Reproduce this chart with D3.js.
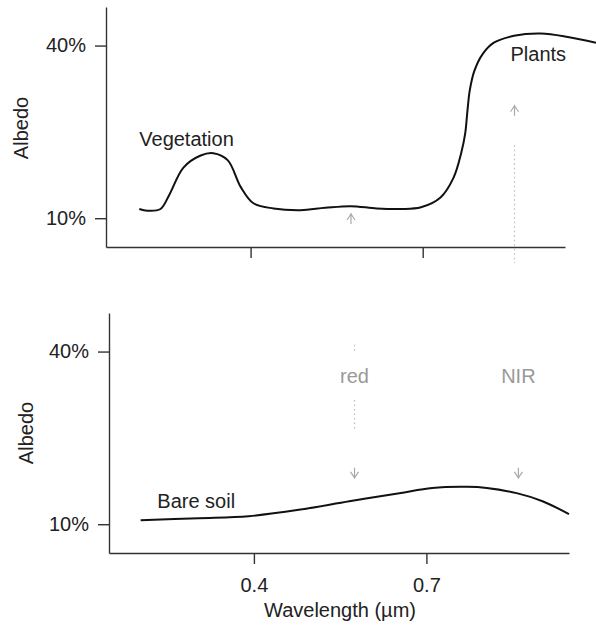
<!DOCTYPE html>
<html>
<head>
<meta charset="utf-8">
<script src="https://cdn.jsdelivr.net/npm/d3@7"></script>
<style>
  body { margin: 0; background: #fff; }
  svg text { font-family: "Liberation Sans", Arial, sans-serif; font-size: 20px; fill: #222; }
</style>
</head>
<body>
<div id="chart"></div>
<script>
// wavelength (µm) and albedo (%)
const vegWave = [0.206, 0.220, 0.243, 0.258, 0.283, 0.313, 0.335, 0.360, 0.383, 0.405, 0.440, 0.487,
  0.530, 0.574, 0.620, 0.662, 0.697, 0.731, 0.754, 0.767, 0.774, 0.778, 0.782, 0.790, 0.805, 0.824,
  0.859, 0.906, 0.953, 1.002];
const vegAlbedo = [11.6, 11.3, 11.6, 14.0, 18.8, 20.9, 21.3, 20.1, 15.4, 12.6, 11.7, 11.4,
  11.8, 12.1, 11.7, 11.6, 11.9, 13.6, 17.1, 21.3, 24.7, 28.7, 32.2, 35.6, 38.6, 40.5,
  41.7, 42.1, 41.5, 40.5];

const soilWave = [0.203, 0.304, 0.391, 0.478, 0.566, 0.653, 0.710, 0.770, 0.805, 0.857, 0.902, 0.948];
const soilAlbedo = [10.7, 11.05, 11.4, 12.5, 14.0, 15.4, 16.3, 16.5, 16.3, 15.4, 14.0, 11.75];

const bands = ["red", "NIR"];
const bandWave = [0.575, 0.86];
const topArrowAlbedo = [9, 27.8];
const bottomArrowAlbedo = [19.8, 19.8];

const xTicks = [0.4, 0.7];
const yTicks = [10, 40];

const svg = d3.select("#chart").append("svg")
  .attr("width", 596)
  .attr("height", 626);

const panels = [
  { left: 106, right: 565, top: 7, bottom: 247, labels: false },
  { left: 109, right: 569, top: 313, bottom: 553, labels: true }
];

panels.forEach((p) => {
  p.x = d3.scaleLinear().domain([0.148, 0.948]).range([p.left, p.right]);
  p.y = d3.scaleLinear().domain([5, 46.7]).range([p.bottom, p.top]);

  const yAxis = svg.append("g")
    .attr("transform", `translate(${p.left},0)`)
    .call(d3.axisLeft(p.y).tickValues(yTicks).tickFormat((d) => d + "%")
      .tickSize(11).tickSizeOuter(0).tickPadding(9));

  const xAxis = svg.append("g")
    .attr("transform", `translate(0,${p.bottom})`)
    .call(d3.axisBottom(p.x).tickValues(xTicks)
      .tickFormat(p.labels ? d3.format(".1f") : () => "")
      .tickSize(11).tickSizeOuter(0).tickPadding(11));

  [yAxis, xAxis].forEach((a) => {
    a.selectAll("path, line").attr("stroke", "#333").attr("stroke-width", 1.4);
    a.selectAll("text").style("font-size", "20px").attr("fill", "#222");
  });
  xAxis.selectAll("text").attr("y", 25);
});

const [topPanel, botPanel] = panels;

svg.append("text")
  .attr("transform", `translate(28,${(topPanel.top + topPanel.bottom) / 2 + 1}) rotate(-90)`)
  .attr("text-anchor", "middle")
  .text("Albedo");
svg.append("text")
  .attr("transform", `translate(33,${(botPanel.top + botPanel.bottom) / 2}) rotate(-90)`)
  .attr("text-anchor", "middle")
  .text("Albedo");

svg.append("text")
  .attr("x", 340).attr("y", 617)
  .attr("text-anchor", "middle")
  .text("Wavelength (µm)");

// curves
const vegLine = d3.line()
  .x((d, i) => topPanel.x(vegWave[i]))
  .y((d) => topPanel.y(d))
  .curve(d3.curveCatmullRom.alpha(0.5));

svg.append("path")
  .attr("d", vegLine(vegAlbedo))
  .attr("fill", "none")
  .attr("stroke", "#111")
  .attr("stroke-width", 2);

const soilLine = d3.line()
  .x((d, i) => botPanel.x(soilWave[i]))
  .y((d) => botPanel.y(d))
  .curve(d3.curveCatmullRom.alpha(0.5));

svg.append("path")
  .attr("d", soilLine(soilAlbedo))
  .attr("fill", "none")
  .attr("stroke", "#111")
  .attr("stroke-width", 2);

svg.append("text").attr("x", topPanel.x(0.206)).attr("y", topPanel.y(22.6)).text("Vegetation");
svg.append("text").attr("x", topPanel.x(0.853)).attr("y", topPanel.y(37.4)).text("Plants");
svg.append("text").attr("x", botPanel.x(0.232)).attr("y", botPanel.y(12.9)).text("Bare soil");

// band markers
const grey = "#aaa";

function arrow(x, y, dir) {
  // dir = -1 points up, 1 points down; (x, y) is the tip
  const s = -dir;
  return `M${x},${y}L${x},${y + s * 11}M${x - 4},${y + s * 7}L${x},${y + s * 1}L${x + 4},${y + s * 7}`;
}

bands.forEach((b, i) => {
  svg.append("path")
    .attr("d", arrow(topPanel.x(bandWave[i]), topPanel.y(topArrowAlbedo[i]) - 11, -1))
    .attr("fill", "none").attr("stroke", grey).attr("stroke-width", 1.2);

  svg.append("path")
    .attr("d", arrow(botPanel.x(bandWave[i]), botPanel.y(bottomArrowAlbedo[i]) + 11, 1))
    .attr("fill", "none").attr("stroke", grey).attr("stroke-width", 1.2);

  svg.append("text")
    .attr("x", botPanel.x(bandWave[i]))
    .attr("y", botPanel.y(34.5))
    .attr("text-anchor", "middle")
    .style("fill", "#999")
    .text(b);
});

// dotted guides
const dotted = (x, y1, y2) => svg.append("line")
  .attr("x1", x).attr("x2", x).attr("y1", y1).attr("y2", y2)
  .attr("stroke", "#bbb").attr("stroke-width", 1.2).attr("stroke-dasharray", "1.5,3");

dotted(topPanel.x(bandWave[1]), topPanel.y(22.7), topPanel.y(2.2));
dotted(botPanel.x(bandWave[0]), botPanel.y(41.2), botPanel.y(39.8));
dotted(botPanel.x(bandWave[0]), botPanel.y(31.6), botPanel.y(26.4));
</script>
</body>
</html>
